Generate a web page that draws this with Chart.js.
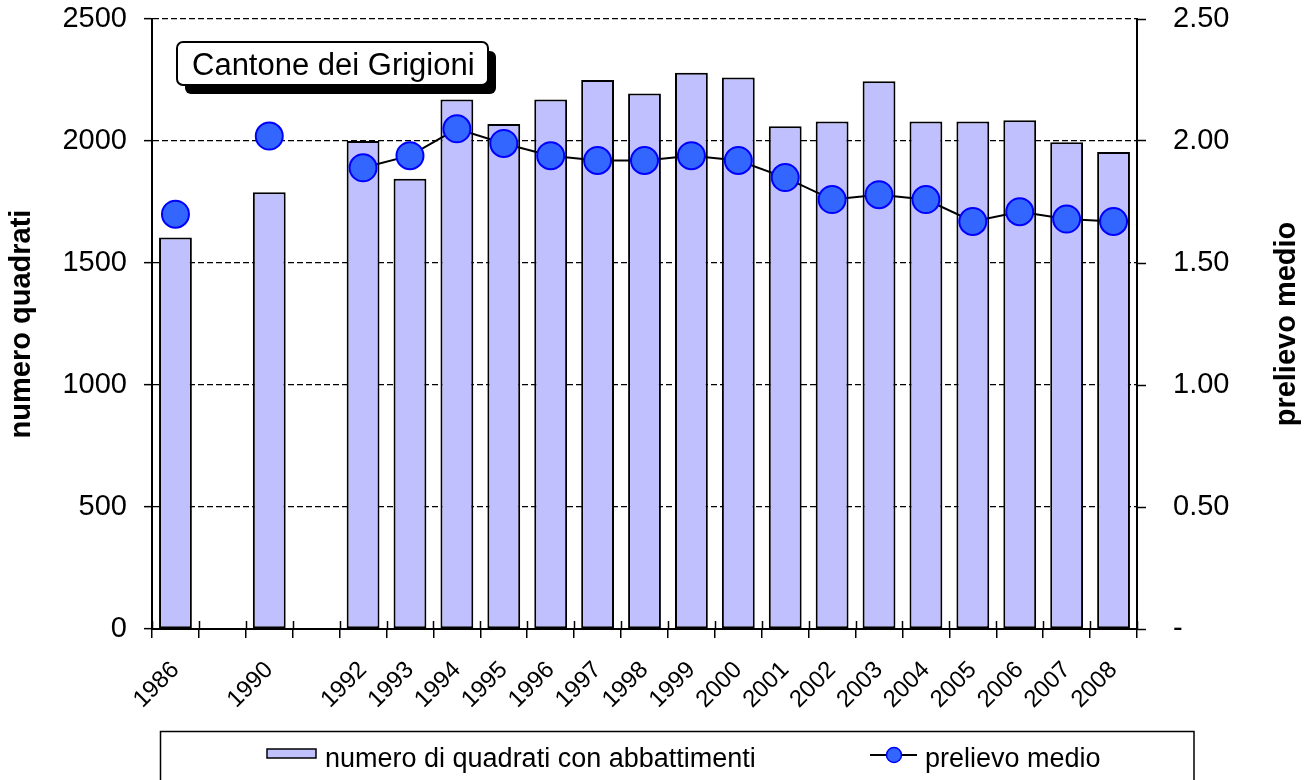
<!DOCTYPE html>
<html>
<head>
<meta charset="utf-8">
<script src="https://cdn.jsdelivr.net/npm/chart.js@4.4.1/dist/chart.umd.min.js"></script>
<style>
html,body{margin:0;padding:0;background:#fff;}
canvas{display:block;}
</style>
</head>
<body>
<canvas id="c" width="1310" height="780"></canvas>
<script>
// ---- data ----
const categories = ['1986','','1990','','1992','1993','1994','1995','1996','1997','1998','1999','2000','2001','2002','2003','2004','2005','2006','2007','2008'];
const numeroQuadrati = [1605,null,1790,null,2000,1845,2170,2070,2170,2250,2195,2280,2260,2060,2080,2245,2080,2080,2085,1995,1955];
const prelievoMedio = [1.70,null,2.02,null,1.89,1.94,2.05,1.99,1.94,1.92,1.92,1.94,1.92,1.85,1.76,1.78,1.76,1.67,1.71,1.68,1.67];
const leftTicks = [0,500,1000,1500,2000,2500];
const rightTicks = [0,0.5,1.0,1.5,2.0,2.5];
const seriesLabels = ['numero di quadrati con abbattimenti','prelievo medio'];
const leftTitle = 'numero quadrati';
const rightTitle = 'prelievo medio';
const boxTitle = 'Cantone dei Grigioni';

const FONT = '"Liberation Sans", Arial, sans-serif';
const NARROW = '"Liberation Sans Narrow", "Arial Narrow", "Liberation Sans", Arial, sans-serif';
const BAR_FILL = '#C0C0FF';
const DOT_FILL = '#3366FF';
const DOT_EDGE = '#0000FF';

function roundRect(ctx, x, y, w, h, r) {
  ctx.beginPath();
  ctx.moveTo(x + r, y);
  ctx.lineTo(x + w - r, y);
  ctx.arcTo(x + w, y, x + w, y + r, r);
  ctx.lineTo(x + w, y + h - r);
  ctx.arcTo(x + w, y + h, x + w - r, y + h, r);
  ctx.lineTo(x + r, y + h);
  ctx.arcTo(x, y + h, x, y + h - r, r);
  ctx.lineTo(x, y + r);
  ctx.arcTo(x, y, x + r, y, r);
  ctx.closePath();
}

function noPad(s) { s.paddingTop = 0; s.paddingBottom = 0; s.paddingLeft = 0; s.paddingRight = 0; }

const extras = {
  id: 'extras',
  afterDraw(chart) {
    const ctx = chart.ctx;
    const area = chart.chartArea;
    ctx.save();
    // inner part of x-axis tick marks (cross ticks)
    const xs = chart.scales.x;
    ctx.strokeStyle = '#000';
    ctx.lineWidth = 1.5;
    for (let i = 0; i <= categories.length; i++) {
      const px = Math.round(xs.getPixelForValue(i - 0.5)) + 0.5;
      ctx.beginPath();
      ctx.moveTo(px, area.bottom);
      ctx.lineTo(px, area.bottom - 8);
      ctx.stroke();
    }
    // right axis title, reading bottom to top
    ctx.fillStyle = '#000';
    ctx.font = 'bold 29px ' + FONT;
    ctx.textAlign = 'center';
    ctx.textBaseline = 'middle';
    ctx.translate(1287, (area.top + area.bottom) / 2);
    ctx.rotate(-Math.PI / 2);
    ctx.fillText(rightTitle, 0, 0);
    ctx.setTransform(1, 0, 0, 1, 0, 0);

    // title box with shadow
    const bx = 177, by = 42, bw = 311, bh = 43;
    ctx.fillStyle = '#000';
    roundRect(ctx, bx + 8, by + 9, bw, bh, 6);
    ctx.fill();
    ctx.fillStyle = '#fff';
    roundRect(ctx, bx, by, bw, bh, 6);
    ctx.fill();
    ctx.lineWidth = 2;
    ctx.strokeStyle = '#000';
    ctx.stroke();
    ctx.fillStyle = '#000';
    ctx.font = '31px ' + FONT;
    ctx.textAlign = 'left';
    ctx.textBaseline = 'alphabetic';
    ctx.fillText(boxTitle, 192, 75);

    // legend box
    ctx.lineWidth = 1.5;
    ctx.strokeStyle = '#000';
    ctx.strokeRect(160.5, 731.5, 1033.5, 70);
    const ds = chart.data.datasets;
    const barDs = ds.find(d => d.type === 'bar');
    const lineDs = ds.find(d => d.type === 'line');
    // bar symbol
    ctx.fillStyle = BAR_FILL;
    ctx.fillRect(267, 749, 49, 9);
    ctx.strokeRect(267, 749, 49, 9);
    ctx.fillStyle = '#000';
    ctx.font = '27px ' + FONT;
    ctx.fillText(barDs.label, 325, 767);
    // line symbol
    ctx.lineWidth = 2;
    ctx.beginPath();
    ctx.moveTo(870, 755);
    ctx.lineTo(917, 755);
    ctx.stroke();
    ctx.beginPath();
    ctx.arc(894, 755, 7.5, 0, Math.PI * 2);
    ctx.fillStyle = DOT_FILL;
    ctx.fill();
    ctx.lineWidth = 1.5;
    ctx.strokeStyle = DOT_EDGE;
    ctx.stroke();
    ctx.fillStyle = '#000';
    ctx.fillText(lineDs.label, 925, 767);
    ctx.restore();
  }
};

new Chart(document.getElementById('c'), {
  data: {
    labels: categories,
    datasets: [
      {
        type: 'line',
        label: seriesLabels[1],
        data: prelievoMedio,
        yAxisID: 'y1',
        order: 0,
        borderColor: '#000',
        borderWidth: 2,
        tension: 0,
        spanGaps: false,
        pointRadius: 13.5,
        pointBorderWidth: 2,
        pointBackgroundColor: DOT_FILL,
        pointBorderColor: DOT_EDGE
      },
      {
        type: 'bar',
        label: seriesLabels[0],
        data: numeroQuadrati,
        yAxisID: 'y',
        order: 1,
        backgroundColor: BAR_FILL,
        borderColor: '#000',
        borderWidth: 2,
        borderSkipped: false,
        barPercentage: 0.7,
        categoryPercentage: 1.0
      }
    ]
  },
  options: {
    responsive: false,
    devicePixelRatio: 1,
    animation: false,
    events: [],
    layout: { padding: { top: 19, left: 0, right: 0, bottom: 0 } },
    plugins: { legend: { display: false }, tooltip: { enabled: false }, title: { display: false } },
    scales: {
      x: {
        type: 'category',
        offset: true,
        grid: { display: true, drawOnChartArea: false, drawTicks: true, tickLength: 9, color: '#000', lineWidth: 1.5, offset: true },
        border: { display: true, color: '#000', width: 2 },
        ticks: { color: '#000', font: { family: NARROW, size: 24 }, minRotation: 45, maxRotation: 45, autoSkip: false, padding: 18 },
        afterFit(s) { s.height = 151; noPad(s); }
      },
      y: {
        position: 'left',
        min: leftTicks[0],
        max: leftTicks[leftTicks.length - 1],
        afterBuildTicks(s) { s.ticks = leftTicks.map(v => ({ value: v })); },
        grid: { color: '#000', lineWidth: 1.3, tickLength: 8, tickColor: '#000', tickWidth: 1.5, tickBorderDash: [] },
        border: { display: true, color: '#000', width: 2, dash: [6, 3] },
        ticks: { color: '#000', font: { family: FONT, size: 29 }, padding: 17, callback: v => String(v) },
        title: { display: true, text: leftTitle, color: '#000', font: { family: FONT, size: 29, weight: 'bold' }, padding: { top: 5, bottom: 0 } },
        afterFit(s) { s.width = 152; noPad(s); }
      },
      y1: {
        position: 'right',
        min: rightTicks[0],
        max: rightTicks[rightTicks.length - 1],
        afterBuildTicks(s) { s.ticks = rightTicks.map(v => ({ value: v })); },
        grid: { drawOnChartArea: false, color: '#000', tickLength: 9, tickWidth: 1.5, tickBorderDash: [] },
        border: { display: true, color: '#000', width: 2 },
        ticks: { color: '#000', font: { family: FONT, size: 29 }, padding: 27, callback: v => (v === 0 ? '-' : Number(v).toFixed(2)) },
        afterFit(s) { s.width = 173; noPad(s); }
      }
    }
  },
  plugins: [extras]
});
</script>
</body>
</html>
